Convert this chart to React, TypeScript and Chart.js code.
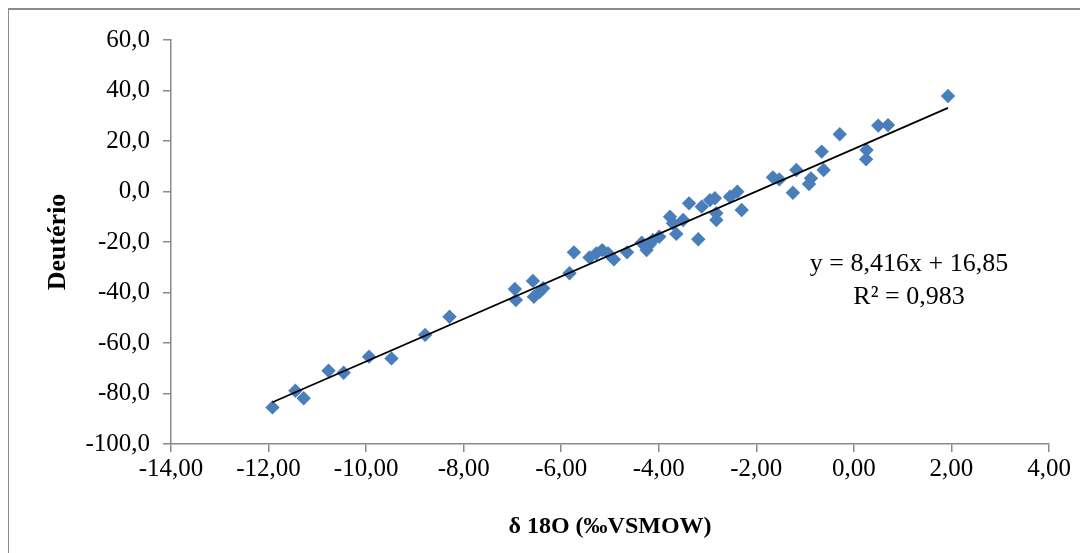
import React, { useEffect, useRef } from "react";
import { Chart, registerables } from "chart.js";

Chart.register(...registerables);

// δ18O (‰ VSMOW) values
const d18O = [
  -11.92, -11.45, -11.28, -10.77, -10.46, -9.94, -9.48, -8.79, -8.29,
  -6.95, -6.93, -6.58, -6.56, -6.44, -6.37, -5.83, -5.74, -5.42, -5.28,
  -5.16, -5.04, -4.92, -4.65, -4.35, -4.25, -4.18, -4.12, -3.99, -3.77,
  -3.71, -3.64, -3.5, -3.38, -3.19, -3.12, -2.95, -2.85, -2.82, -2.82,
  -2.54, -2.39, -2.3, -1.66, -1.53, -1.25, -1.18, -0.92, -0.88, -0.66,
  -0.62, -0.29, 0.26, 0.25, 0.5, 0.7, 1.93,
];

// Deutério (δD) values
const deuterio = [
  -85.5, -78.9, -81.9, -71.0, -71.8, -65.4, -66.1, -56.8, -49.6,
  -38.6, -43.0, -35.4, -41.7, -39.7, -38.3, -32.4, -24.1, -26.1, -24.5,
  -23.2, -24.5, -26.9, -24.1, -20.3, -23.2, -20.8, -19.2, -17.9, -10.0,
  -12.6, -16.8, -11.3, -4.7, -18.9, -6.0, -3.4, -2.7, -11.3, -8.6,
  -2.1, -0.1, -7.3, 5.6, 4.8, -0.5, 8.5, 3.0, 5.2, 15.8,
  8.5, 22.7, 16.4, 12.8, 26.1, 26.3, 37.8,
];

const xTickLabels = ["-14,00", "-12,00", "-10,00", "-8,00", "-6,00", "-4,00", "-2,00", "0,00", "2,00", "4,00"];
const yTickLabels = ["-100,0", "-80,0", "-60,0", "-40,0", "-20,0", "0,0", "20,0", "40,0", "60,0"];

const xTitle = "δ 18O (‰VSMOW)";
const yTitle = "Deutério";

const trendSlope = 8.416;
const trendIntercept = 16.85;
const equationLines = ["y = 8,416x + 16,85", "R² = 0,983"];
// label anchor in data units
const equationAnchorX = 1.13;
const equationAnchorY = [-31.5, -44.4];

const num = (s: string) => parseFloat(s.replace(",", "."));

const AXIS_COLOR = "#8a8a8a";
const MARKER_COLOR = "#4a7ebb";
const FONT = '"Liberation Serif", "Times New Roman", serif';

export default function App() {
  const canvasRef = useRef<HTMLCanvasElement | null>(null);

  useEffect(() => {
    if (!canvasRef.current) return;
    const xMin = num(xTickLabels[0]);
    const xMax = num(xTickLabels[xTickLabels.length - 1]);
    const yMin = num(yTickLabels[0]);
    const yMax = num(yTickLabels[yTickLabels.length - 1]);
    const xStep = num(xTickLabels[1]) - xMin;
    const yStep = num(yTickLabels[1]) - yMin;

    const points = d18O.map((x, i) => ({ x, y: deuterio[i] }));
    const tMin = Math.min(...d18O);
    const tMax = Math.max(...d18O);
    const trend = [tMin, tMax].map((x) => ({ x, y: trendSlope * x + trendIntercept }));

    const equationPlugin = {
      id: "equationLabel",
      afterDatasetsDraw(chart: any) {
        const { ctx, scales } = chart;
        ctx.save();
        ctx.font = `26px ${FONT}`;
        ctx.fillStyle = "#000";
        ctx.textAlign = "center";
        ctx.textBaseline = "alphabetic";
        equationLines.forEach((line, i) => {
          ctx.fillText(
            line,
            scales.x.getPixelForValue(equationAnchorX),
            scales.y.getPixelForValue(equationAnchorY[i])
          );
        });
        ctx.restore();
      },
    };

    const chart = new Chart(canvasRef.current, {
      type: "scatter",
      data: {
        datasets: [
          {
            label: "trend",
            data: trend,
            showLine: true,
            borderColor: "#000",
            borderWidth: 1.8,
            pointRadius: 0,
            order: 0,
          },
          {
            label: "Deutério",
            data: points,
            pointStyle: "rectRot",
            pointRadius: 7.2,
            pointBackgroundColor: MARKER_COLOR,
            pointBorderWidth: 0,
            borderColor: MARKER_COLOR,
            order: 1,
          },
        ],
      },
      options: {
        animation: false,
        responsive: false,
        devicePixelRatio: 1,
        layout: { padding: { top: 30, right: 39, bottom: 0, left: 0 } },
        plugins: {
          legend: { display: false },
          tooltip: { enabled: false },
        },
        scales: {
          x: {
            type: "linear",
            position: "bottom",
            min: xMin,
            max: xMax,
            afterFit: (s: any) => {
              s.height = 109;
            },
            ticks: {
              stepSize: xStep,
              color: "#000",
              padding: 2,
              maxRotation: 0,
              autoSkip: false,
              font: { family: FONT, size: 25 },
              callback: (v: any) => xTickLabels.find((l) => Math.abs(num(l) - v) < 1e-6) ?? "",
            },
            grid: {
              drawOnChartArea: false,
              drawTicks: true,
              tickLength: 8,
              color: AXIS_COLOR,
              lineWidth: 1.5,
            },
            border: { color: AXIS_COLOR, width: 1.5 },
            title: {
              display: true,
              text: xTitle,
              color: "#000",
              font: { family: FONT, size: 24, weight: "bold" },
              padding: { top: 0, bottom: 12 },
            },
          },
          y: {
            type: "linear",
            min: yMin,
            max: yMax,
            afterFit: (s: any) => {
              s.width = 162;
            },
            ticks: {
              stepSize: yStep,
              color: "#000",
              padding: 13,
              autoSkip: false,
              font: { family: FONT, size: 25 },
              callback: (v: any) => yTickLabels.find((l) => Math.abs(num(l) - v) < 1e-6) ?? "",
            },
            grid: {
              drawOnChartArea: false,
              drawTicks: true,
              tickLength: 8,
              color: AXIS_COLOR,
              lineWidth: 1.5,
            },
            border: { color: AXIS_COLOR, width: 1.5 },
            title: {
              display: true,
              text: yTitle,
              color: "#000",
              font: { family: FONT, size: 26, weight: "bold" },
              padding: { top: 34, bottom: 0 },
            },
          },
        },
      },
      plugins: [equationPlugin],
    } as any);

    return () => chart.destroy();
  }, []);

  return (
    <div
      style={{
        width: 1079,
        height: 543,
        borderLeft: `1px solid ${AXIS_COLOR}`,
        borderTop: `2px solid ${AXIS_COLOR}`,
        background: "#fff",
        overflow: "hidden",
      }}
    >
      <canvas ref={canvasRef} width={1079} height={543} style={{ display: "block", width: 1079, height: 543 }} />
    </div>
  );
}
